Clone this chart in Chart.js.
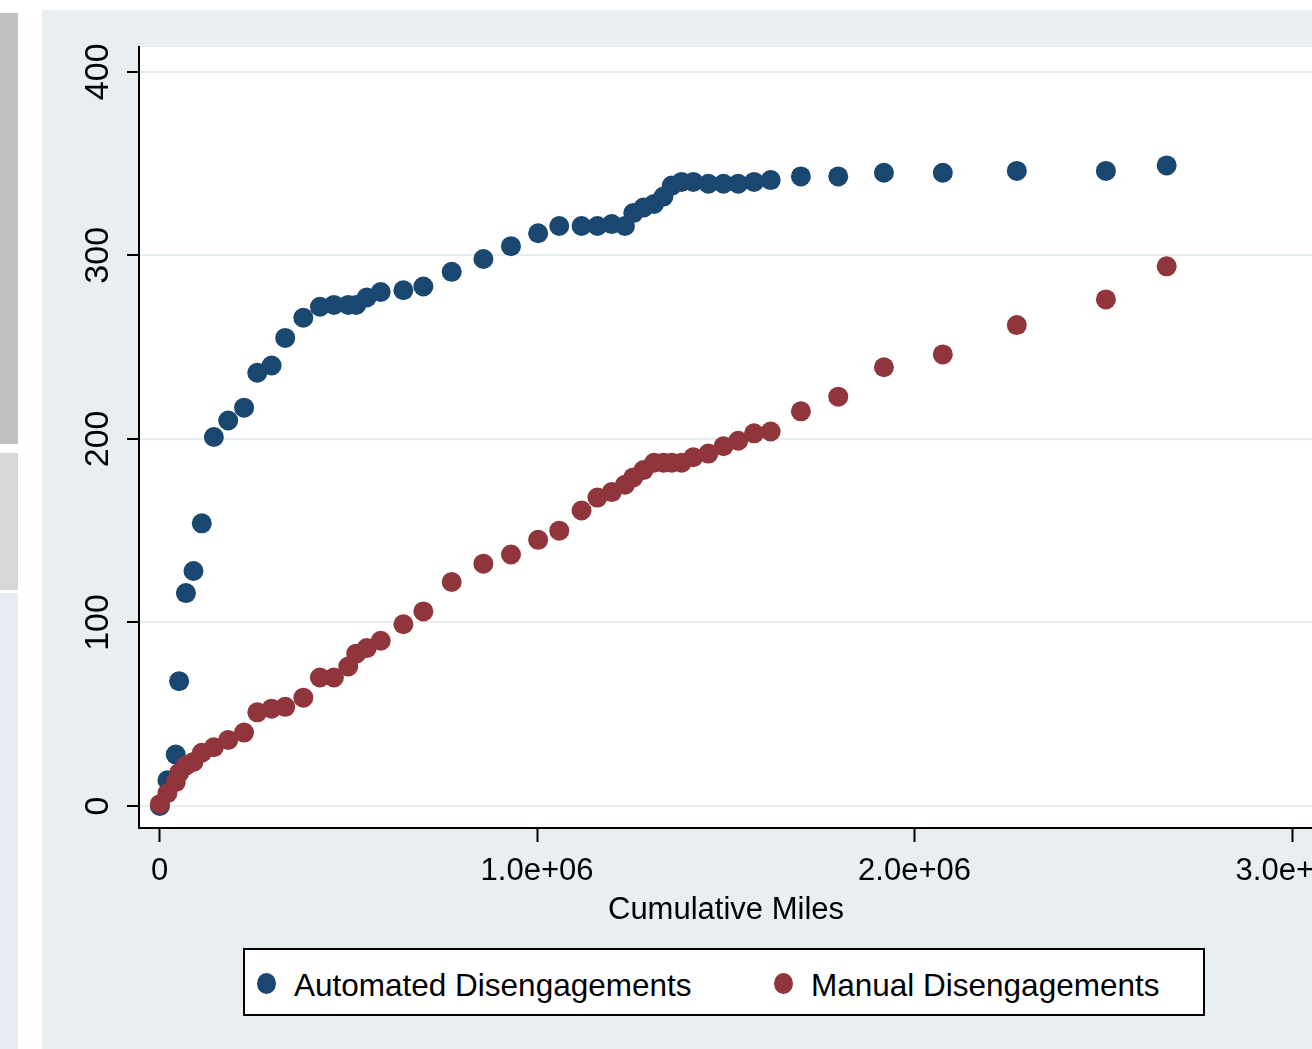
<!DOCTYPE html>
<html>
<head>
<meta charset="utf-8">
<script src="https://cdn.jsdelivr.net/npm/chart.js@4.4.1/dist/chart.umd.min.js"></script>
<style>
  html, body { margin: 0; padding: 0; background: #fff; }
  body { width: 1312px; height: 1049px; position: relative; overflow: hidden; font-family: "Liberation Sans", Arial, sans-serif; }
  .bar { position: absolute; left: 0; width: 18px; }
  .panel { position: absolute; left: 42px; top: 10px; width: 1270px; height: 1039px; background: #e9eff1; overflow: hidden; }
  .plot { position: absolute; left: 0; top: 0; width: 1400px; height: 930px; }
  .legend { position: absolute; left: 201px; top: 938px; width: 958px; height: 64px; border: 2px solid #000; background: #fff; }
  .legend .item { position: absolute; top: 3px; height: 64px; display: flex; align-items: center; font-size: 31.5px; color: #000; white-space: nowrap; }
  .legend .dot { display: inline-block; width: 19px; height: 21px; border-radius: 50%; margin-right: 18px; margin-top: -4px; }
</style>
</head>
<body>
<div class="bar" style="top:13px;height:431px;background:#c0c0c0"></div>
<div class="bar" style="top:453px;height:137px;background:#d7d7d7"></div>
<div class="bar" style="top:593px;height:456px;background:#e7ecf4"></div>

<div class="panel">
  <div class="plot"><canvas id="chart" width="1400" height="930"></canvas></div>
  <div class="legend" id="legend"></div>
</div>

<script>
// cumulative miles at each reporting point
var miles = [1000, 21000, 43000, 52000, 70000, 90000, 112000, 144000, 182000, 224000,
  259000, 297000, 333000, 381000, 425000, 462000, 500000, 521000, 549000, 586000,
  646000, 699000, 774000, 858000, 931000, 1003000, 1059000, 1118000, 1160000, 1198000,
  1233000, 1255000, 1282000, 1310000, 1335000, 1357000, 1383000, 1414000, 1454000, 1494000,
  1533000, 1575000, 1619000, 1699000, 1798000, 1919000, 2075000, 2271000, 2507000, 2668000];

var automated = [0, 14, 28, 68, 116, 128, 154, 201, 210, 217,
  236, 240, 255, 266, 272, 273, 273, 273, 277, 280,
  281, 283, 291, 298, 305, 312, 316, 316, 316, 317,
  316, 323, 326, 328, 332, 338, 340, 340, 339, 339,
  339, 340, 341, 343, 343, 345, 345, 346, 346, 349];

var manual = [1, 7, 13, 18, 22, 24, 29, 32, 36, 40,
  51, 53, 54, 59, 70, 70, 76, 83, 86, 90,
  99, 106, 122, 132, 137, 145, 150, 161, 168, 171,
  175, 179, 183, 187, 187, 187, 187, 190, 192, 196,
  199, 203, 204, 215, 223, 239, 246, 262, 276, 294];

var seriesNames = ['Automated Disengagements', 'Manual Disengagements'];
var seriesColors = ['#1a476f', '#90353b'];

var xTickValues = [0, 1000000, 2000000, 3000000];
var xTickLabels = ['0', '1.0e+06', '2.0e+06', '3.0e+06'];
var yTickValues = [0, 100, 200, 300, 400];
var yTickLabels = ['0', '100', '200', '300', '400'];

var FONT = '"Liberation Sans", Arial, Helvetica, sans-serif';

function toPoints(ys) {
  return miles.map(function (m, i) { return { x: m, y: ys[i] }; });
}

// white plot region like stata's plotregion
var plotBg = {
  id: 'plotBg',
  beforeDraw: function (c) {
    var a = c.chartArea, ctx = c.ctx;
    ctx.save();
    ctx.fillStyle = '#fff';
    ctx.fillRect(a.left, a.top, a.right - a.left, a.bottom - a.top);
    ctx.restore();
  }
};

var ctx = document.getElementById('chart');
var myChart = new Chart(ctx, {
  type: 'scatter',
  data: {
    datasets: [{
      label: seriesNames[0],
      data: toPoints(automated),
      backgroundColor: seriesColors[0],
      order: 2
    }, {
      label: seriesNames[1],
      data: toPoints(manual),
      backgroundColor: seriesColors[1],
      order: 1
    }]
  },
  options: {
    responsive: false,
    animation: false,
    events: [],
    layout: { padding: { top: 37, right: 129, bottom: 0, left: 0 } },
    elements: { point: { radius: 10, hoverRadius: 10, borderWidth: 0 } },
    plugins: { legend: { display: false }, tooltip: { enabled: false } },
    scales: {
      x: {
        type: 'linear',
        min: -54300,
        max: 3055600,
        afterBuildTicks: function (s) { s.ticks = xTickValues.map(function (v) { return { value: v }; }); },
        afterFit: function (s) { s.height = 112; s.paddingLeft = 0; s.paddingRight = 0; },
        grid: { drawOnChartArea: false, drawTicks: true, tickLength: 14, tickColor: '#000', tickWidth: 2 },
        border: { display: true, color: '#000', width: 2 },
        ticks: {
          color: '#000', padding: 11, maxRotation: 0, autoSkip: false,
          font: { family: FONT, size: 31 },
          callback: function (v) { return xTickLabels[xTickValues.indexOf(v)]; }
        },
        title: {
          display: true, text: 'Cumulative Miles', color: '#000',
          font: { family: FONT, size: 31 }, padding: { top: 0, bottom: 11 }
        }
      },
      y: {
        type: 'linear',
        min: -12,
        max: 413.5,
        afterBuildTicks: function (s) { s.ticks = yTickValues.map(function (v) { return { value: v }; }); },
        afterFit: function (s) { s.width = 97; s.paddingTop = 0; s.paddingBottom = 0; },
        grid: { color: '#e6eef0', lineWidth: 2, drawTicks: true, tickLength: 12, tickColor: '#000', tickWidth: 2 },
        border: { display: true, color: '#000', width: 2 },
        ticks: {
          color: '#000', padding: 0, minRotation: 90, maxRotation: 90, crossAlign: 'center',
          font: { family: FONT, size: 34 },
          callback: function (v) { return yTickLabels[yTickValues.indexOf(v)]; }
        }
      }
    }
  },
  plugins: [plotBg]
});

// legend box built from the series names and colours
var legend = document.getElementById('legend');
var itemLeft = [12, 529];
seriesNames.forEach(function (name, i) {
  var item = document.createElement('div');
  item.className = 'item';
  item.style.left = itemLeft[i] + 'px';
  var dot = document.createElement('span');
  dot.className = 'dot';
  dot.style.background = seriesColors[i];
  item.appendChild(dot);
  item.appendChild(document.createTextNode(name));
  legend.appendChild(item);
});
</script>
</body>
</html>
